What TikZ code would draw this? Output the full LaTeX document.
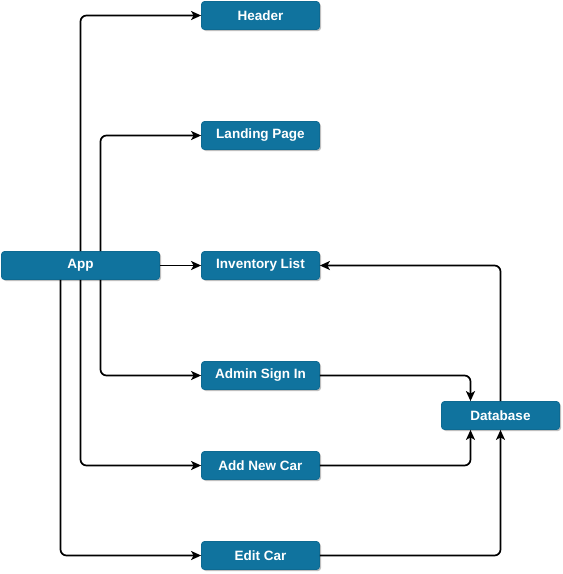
\documentclass[tikz,border=0pt]{standalone}
\usepackage{fontspec}
\setmainfont{Liberation Sans}
\usetikzlibrary{arrows.meta,shadows}
\definecolor{boxblue}{HTML}{10739E}
\definecolor{boxline}{HTML}{0E6A92}
\begin{document}
\begin{tikzpicture}[x=1pt,y=1pt,yscale=-1,
    comp/.style={draw=boxline,fill=boxblue,line width=0.8pt,rounded corners=3pt,
      minimum width=118pt,minimum height=28pt,text=white,
      font=\bfseries\fontsize{13.5}{15}\selectfont,
      drop shadow={shadow xshift=1.5pt,shadow yshift=-1.5pt,opacity=0.25,fill=black}},
    wire/.style={draw,line width=1.7pt,rounded corners=6pt,
      -{Stealth[length=10pt,width=9pt,inset=2.5pt]}}]
  \useasboundingbox (0,0) rectangle (563,574);
  % Components
  \node[comp,minimum width=158pt] (app) at (80.5,265.5) {App};
  \node[comp] (header) at (260.5,15.5) {Header};
  \node[comp] (landing) at (260.5,135.5) {Landing Page};
  \node[comp] (inventory) at (260.5,265.5) {Inventory List};
  \node[comp] (admin) at (260.5,375.5) {Admin Sign In};
  \node[comp] (addcar) at (260.5,465.5) {Add New Car};
  \node[comp] (editcar) at (260.5,555.5) {Edit Car};
  \node[comp] (db) at (500.5,415.5) {Database};
  % App to its children
  \draw[wire] (app.north) |- (header.west);
  \draw[wire] ([xshift=20pt]app.north) |- (landing.west);
  \draw[wire] (app) -- (inventory);
  \draw[wire] ([xshift=20pt]app.south) |- (admin.west);
  \draw[wire] (app.south) |- (addcar.west);
  \draw[wire] ([xshift=-20pt]app.south) |- (editcar.west);
  % Database links
  \draw[wire] (admin.east) -| ([xshift=-30pt]db.north);
  \draw[wire] (addcar.east) -| ([xshift=-30pt]db.south);
  \draw[wire] (editcar.east) -| (db.south);
  \draw[wire] (db.north) |- (inventory.east);
\end{tikzpicture}
\end{document}
